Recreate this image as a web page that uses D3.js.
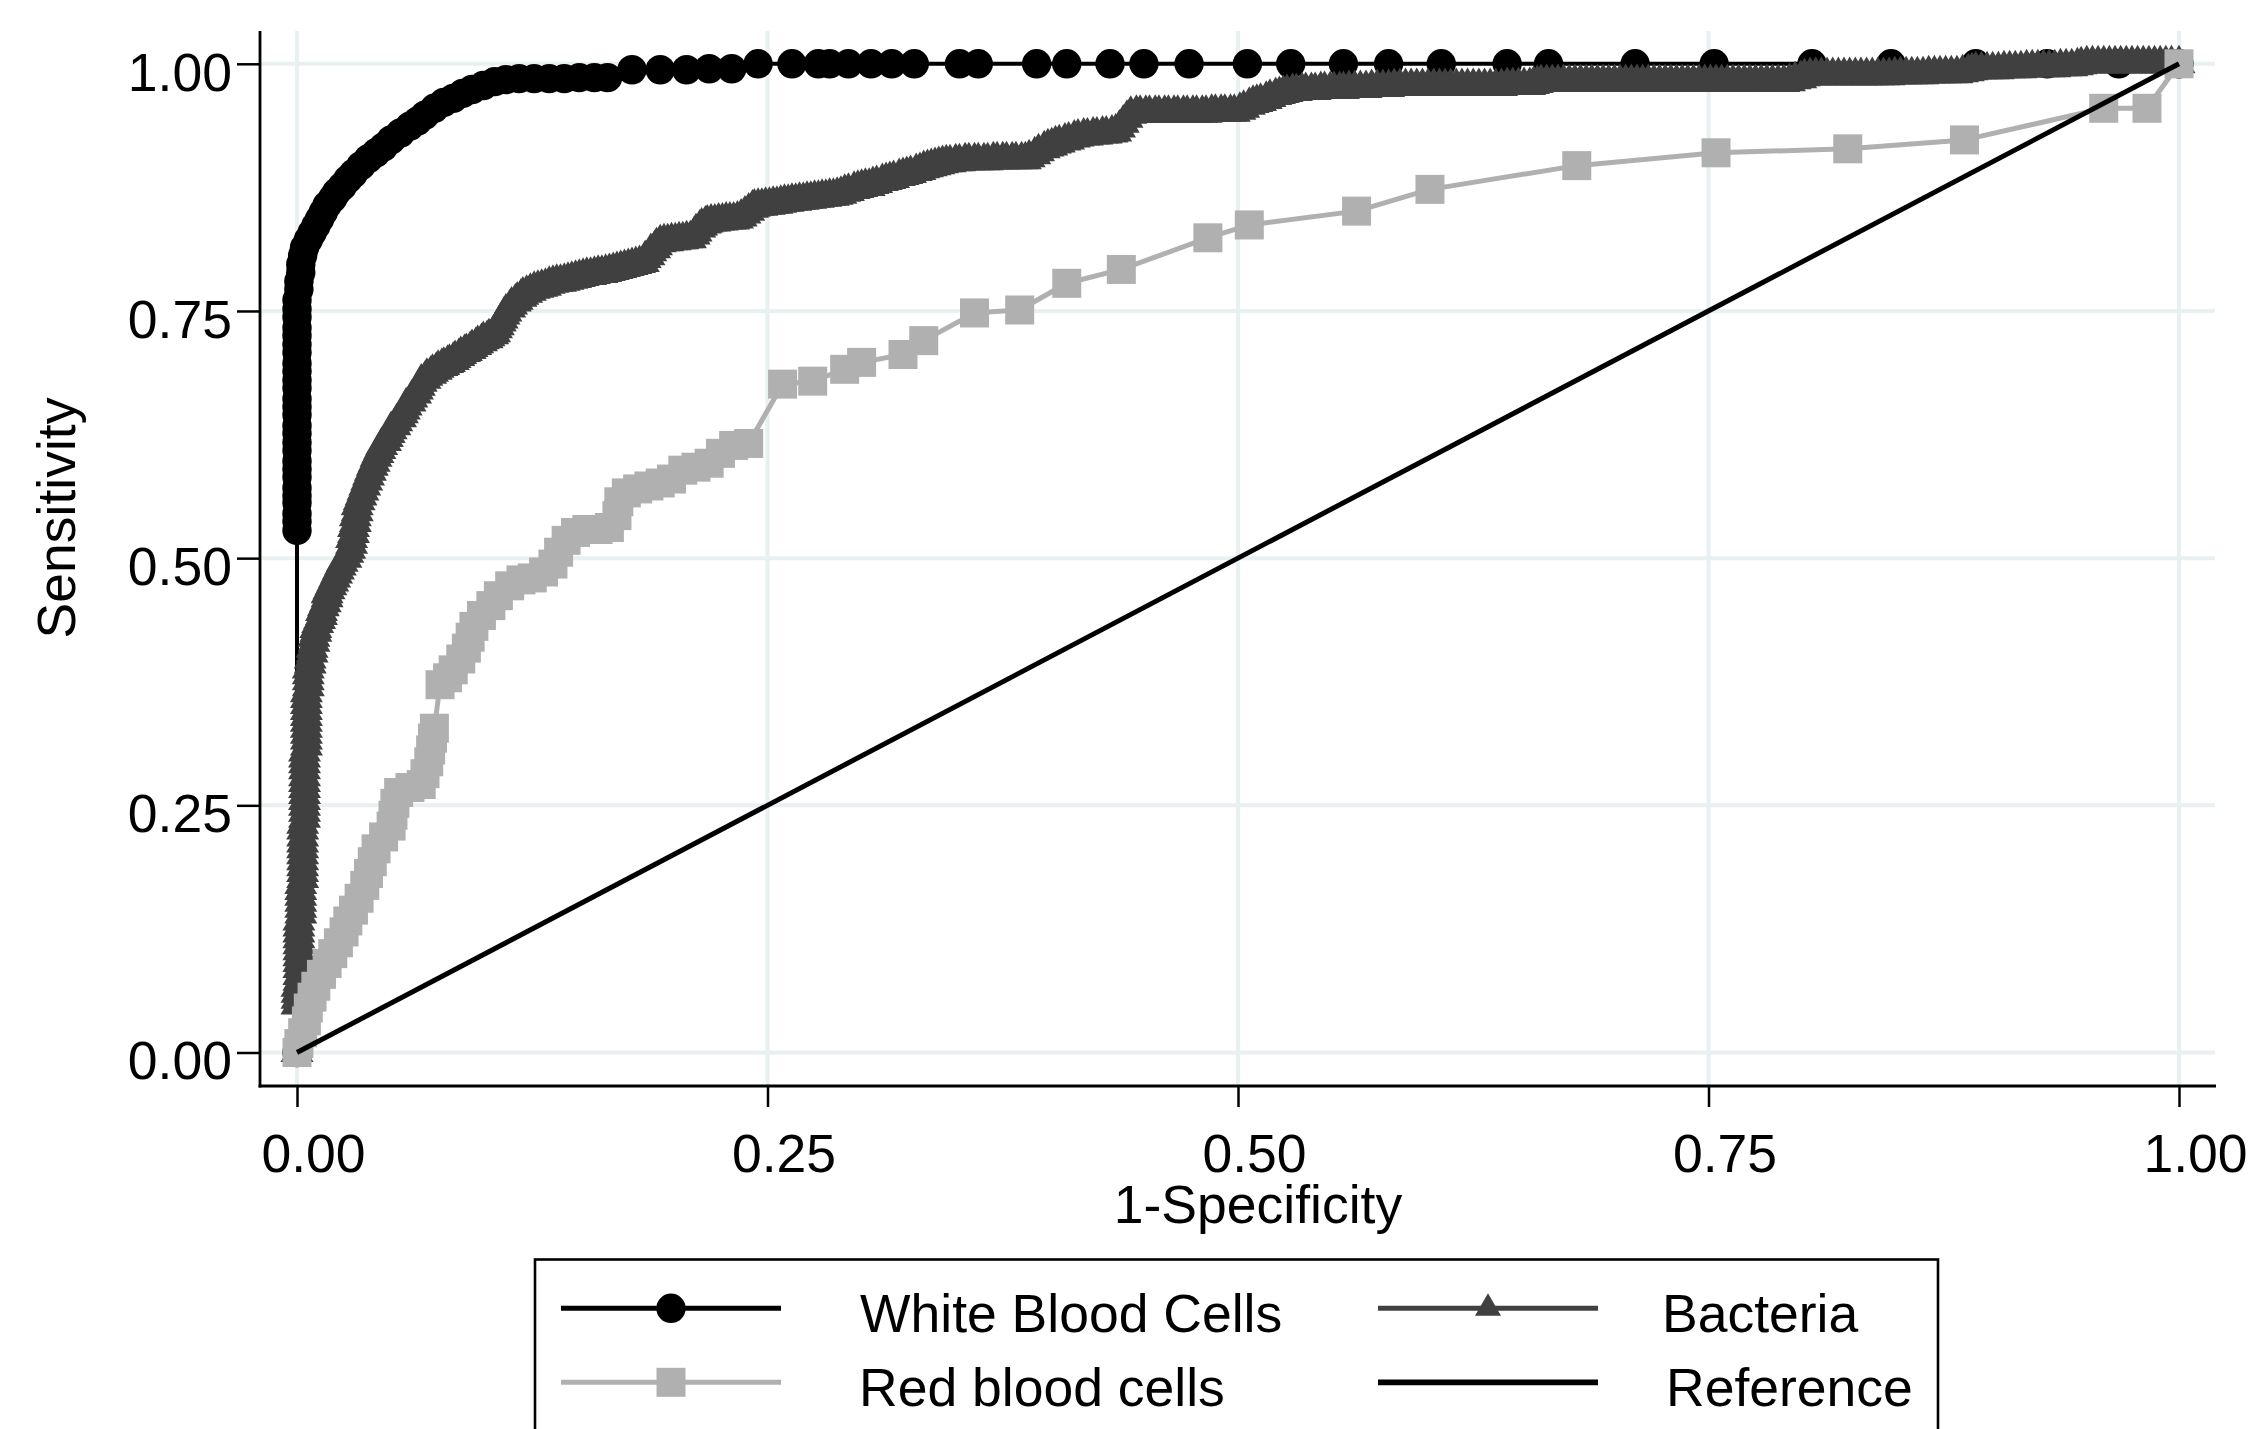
<!DOCTYPE html>
<html>
<head>
<meta charset="utf-8">
<script src="https://cdn.jsdelivr.net/npm/d3@7"></script>
<style>
body{margin:0;background:#fff;}
svg text{font-family:"Liberation Sans", Arial, Helvetica, sans-serif;}
</style>
</head>
<body>
<svg id="roc"></svg>
<script>
// roc curves, urine test markers

const seriesNames = ['White Blood Cells', 'Bacteria', 'Red blood cells', 'Reference'];
const xTicks = [0, 0.25, 0.5, 0.75, 1];
const yTicks = [0, 0.25, 0.5, 0.75, 1];
const xTitle = '1-Specificity';
const yTitle = 'Sensitivity';

// [1-specificity, sensitivity]
const wbcPoints = [
    [0,0],[0,0.528],[0,0.537],[0,0.545],[0,0.556],[0,0.563],[0,0.571],[0,0.582],[0,0.59],[0,0.598],
    [0,0.609],[0,0.617],[0,0.626],[0,0.634],[0,0.645],[0,0.653],[0,0.661],[0,0.672],[0,0.68],[0,0.689],
    [0,0.697],[0,0.708],[0,0.716],[0,0.725],[0,0.733],[0,0.744],[0,0.752],[0,0.761],[0.001,0.772],[0.001,0.78],
    [0.002,0.789],[0.002,0.797],[0.003,0.806],[0.004,0.814],[0.006,0.822],[0.008,0.829],[0.010,0.836],[0.012,0.843],
    [0.014,0.85],[0.016,0.857],[0.019,0.864],[0.021,0.87],[0.024,0.876],[0.027,0.883],[0.030,0.889],[0.034,0.897],
    [0.038,0.904],[0.042,0.91],[0.046,0.916],[0.050,0.923],[0.055,0.93],[0.060,0.937],[0.064,0.942],[0.068,0.948],
    [0.073,0.955],[0.078,0.961],[0.083,0.965],[0.088,0.97],[0.093,0.974],[0.099,0.978],[0.105,0.982],[0.111,0.984],
    [0.118,0.985],[0.126,0.985],[0.134,0.985],[0.142,0.985],[0.150,0.986],[0.158,0.986],[0.165,0.986],[0.178,0.994],
    [0.193,0.994],[0.207,0.994],[0.219,0.995],[0.231,0.995],[0.245,1],[0.263,1],[0.277,1],[0.283,1],[0.293,1],
    [0.305,1],[0.316,1],[0.328,1],[0.352,1],[0.362,1],[0.393,1],[0.409,1],[0.432,1],[0.450,1],[0.474,1],[0.505,1],
    [0.528,1],[0.556,1],[0.580,1],[0.608,1],[0.643,1],[0.665,1],[0.711,1],[0.753,1],[0.805,1],[0.847,1],[0.892,1],
    [0.930,1],[0.968,1],[1,1]
];

const bacteriaPoints = [
    [0,0],[0,0.048],[0,0.054],[0,0.06],[0,0.066],[0.001,0.072],[0.001,0.078],[0.001,0.085],[0.001,0.091],[0.001,0.097],
    [0.001,0.103],[0.001,0.109],[0.001,0.115],[0.001,0.121],[0.001,0.127],[0.001,0.133],[0.002,0.14],[0.002,0.146],
    [0.002,0.152],[0.002,0.158],[0.002,0.164],[0.002,0.17],[0.003,0.176],[0.003,0.182],[0.003,0.188],[0.003,0.194],
    [0.003,0.2],[0.003,0.206],[0.003,0.212],[0.003,0.218],[0.003,0.225],[0.003,0.231],[0.004,0.237],[0.004,0.243],
    [0.004,0.249],[0.004,0.255],[0.004,0.261],[0.004,0.267],[0.004,0.273],[0.004,0.279],[0.004,0.286],[0.004,0.292],
    [0.004,0.298],[0.004,0.304],[0.005,0.31],[0.005,0.316],[0.005,0.322],[0.005,0.328],[0.005,0.334],[0.005,0.34],
    [0.005,0.346],[0.005,0.352],[0.005,0.358],[0.005,0.364],[0.006,0.37],[0.006,0.376],[0.006,0.382],[0.006,0.388],
    [0.007,0.393],[0.007,0.398],[0.008,0.404],[0.008,0.409],[0.009,0.415],[0.009,0.42],[0.010,0.425],[0.010,0.429],
    [0.011,0.434],[0.012,0.438],[0.013,0.442],[0.013,0.446],[0.014,0.451],[0.015,0.455],[0.016,0.46],[0.016,0.464],
    [0.017,0.468],[0.018,0.472],[0.019,0.476],[0.020,0.48],[0.021,0.484],[0.022,0.488],[0.023,0.492],[0.024,0.496],
    [0.026,0.5],[0.027,0.505],[0.028,0.509],[0.029,0.514],[0.029,0.52],[0.030,0.525],[0.030,0.531],[0.031,0.536],
    [0.031,0.542],[0.032,0.547],[0.032,0.553],[0.033,0.558],[0.034,0.563],[0.035,0.568],[0.036,0.573],[0.037,0.578],
    [0.038,0.583],[0.039,0.588],[0.040,0.593],[0.041,0.597],[0.042,0.602],[0.043,0.606],[0.044,0.61],[0.045,0.614],
    [0.047,0.618],[0.048,0.622],[0.049,0.626],[0.050,0.63],[0.052,0.634],[0.053,0.638],[0.055,0.642],[0.056,0.646],
    [0.057,0.65],[0.058,0.654],[0.060,0.658],[0.061,0.662],[0.063,0.666],[0.064,0.67],[0.065,0.674],[0.066,0.678],
    [0.068,0.681],[0.069,0.684],[0.071,0.686],[0.072,0.688],[0.074,0.69],[0.075,0.692],[0.077,0.694],[0.078,0.695],
    [0.080,0.697],[0.081,0.698],[0.083,0.7],[0.084,0.702],[0.086,0.704],[0.087,0.706],[0.089,0.708],[0.090,0.709],
    [0.092,0.711],[0.093,0.713],[0.095,0.715],[0.096,0.717],[0.098,0.719],[0.099,0.721],[0.101,0.722],[0.102,0.724],
    [0.104,0.726],[0.105,0.728],[0.106,0.732],[0.107,0.735],[0.108,0.739],[0.109,0.742],[0.110,0.746],[0.111,0.749],
    [0.113,0.753],[0.114,0.756],[0.116,0.759],[0.117,0.761],[0.119,0.764],[0.120,0.766],[0.122,0.768],[0.124,0.77],
    [0.126,0.772],[0.128,0.773],[0.130,0.774],[0.132,0.775],[0.134,0.777],[0.136,0.778],[0.138,0.779],[0.140,0.779],
    [0.142,0.78],[0.144,0.781],[0.146,0.782],[0.148,0.783],[0.150,0.784],[0.152,0.785],[0.154,0.786],[0.156,0.786],
    [0.158,0.787],[0.160,0.788],[0.162,0.788],[0.164,0.789],[0.166,0.79],[0.168,0.791],[0.170,0.792],[0.172,0.793],
    [0.174,0.794],[0.176,0.795],[0.178,0.796],[0.180,0.797],[0.182,0.798],[0.184,0.799],[0.185,0.803],[0.187,0.806],
    [0.188,0.81],[0.190,0.813],[0.191,0.816],[0.193,0.819],[0.195,0.82],[0.197,0.82],[0.199,0.821],[0.201,0.821],
    [0.203,0.822],[0.205,0.822],[0.207,0.823],[0.209,0.823],[0.211,0.827],[0.212,0.83],[0.214,0.834],[0.215,0.836],
    [0.217,0.838],[0.218,0.839],[0.220,0.84],[0.222,0.84],[0.224,0.841],[0.226,0.841],[0.228,0.842],[0.230,0.842],
    [0.232,0.842],[0.234,0.843],[0.236,0.845],[0.238,0.848],[0.240,0.851],[0.242,0.854],[0.243,0.855],[0.245,0.856],
    [0.247,0.856],[0.249,0.857],[0.251,0.857],[0.253,0.858],[0.255,0.858],[0.257,0.859],[0.259,0.86],[0.261,0.86],
    [0.263,0.861],[0.265,0.861],[0.267,0.862],[0.269,0.862],[0.271,0.863],[0.273,0.863],[0.275,0.864],[0.277,0.864],
    [0.279,0.865],[0.281,0.865],[0.283,0.866],[0.285,0.866],[0.287,0.867],[0.289,0.868],[0.291,0.87],[0.293,0.871],
    [0.296,0.873],[0.298,0.874],[0.300,0.875],[0.302,0.876],[0.304,0.876],[0.306,0.878],[0.308,0.879],[0.311,0.881],
    [0.313,0.882],[0.315,0.883],[0.317,0.884],[0.320,0.886],[0.322,0.887],[0.324,0.888],[0.326,0.889],[0.329,0.891],
    [0.331,0.892],[0.333,0.894],[0.335,0.895],[0.337,0.896],[0.339,0.897],[0.341,0.898],[0.343,0.899],[0.345,0.9],
    [0.347,0.9],[0.350,0.901],[0.352,0.901],[0.355,0.902],[0.357,0.902],[0.360,0.902],[0.362,0.902],[0.365,0.902],
    [0.367,0.902],[0.370,0.903],[0.372,0.903],[0.375,0.903],[0.377,0.903],[0.380,0.903],[0.382,0.903],[0.385,0.903],
    [0.387,0.903],[0.389,0.905],[0.392,0.908],[0.394,0.911],[0.397,0.914],[0.399,0.916],[0.401,0.917],[0.403,0.919],
    [0.405,0.92],[0.408,0.922],[0.410,0.923],[0.413,0.925],[0.415,0.926],[0.418,0.927],[0.420,0.927],[0.423,0.928],
    [0.425,0.928],[0.428,0.929],[0.430,0.929],[0.433,0.93],[0.435,0.931],[0.437,0.935],[0.439,0.94],[0.441,0.945],
    [0.443,0.949],[0.446,0.95],[0.448,0.95],[0.451,0.95],[0.453,0.95],[0.456,0.95],[0.458,0.95],[0.461,0.95],
    [0.463,0.95],[0.466,0.95],[0.468,0.95],[0.471,0.95],[0.473,0.95],[0.476,0.95],[0.478,0.95],[0.481,0.95],
    [0.483,0.95],[0.486,0.951],[0.488,0.951],[0.491,0.951],[0.493,0.951],[0.496,0.951],[0.498,0.951],[0.501,0.953],
    [0.503,0.955],[0.506,0.958],[0.508,0.96],[0.510,0.961],[0.512,0.962],[0.515,0.964],[0.517,0.966],[0.520,0.968],
    [0.522,0.969],[0.524,0.97],[0.526,0.971],[0.529,0.972],[0.531,0.972],[0.534,0.973],[0.536,0.973],[0.539,0.973],
    [0.541,0.973],[0.544,0.974],[0.546,0.974],[0.549,0.974],[0.551,0.974],[0.554,0.974],[0.556,0.974],[0.559,0.975],
    [0.562,0.975],[0.565,0.975],[0.568,0.975],[0.571,0.976],[0.574,0.976],[0.577,0.976],[0.580,0.976],[0.583,0.977],
    [0.586,0.977],[0.589,0.977],[0.592,0.977],[0.595,0.977],[0.598,0.977],[0.601,0.977],[0.604,0.977],[0.607,0.977],
    [0.610,0.977],[0.613,0.977],[0.616,0.977],[0.619,0.977],[0.622,0.977],[0.625,0.977],[0.628,0.977],[0.631,0.977],
    [0.634,0.977],[0.637,0.977],[0.640,0.977],[0.643,0.978],[0.646,0.978],[0.649,0.978],[0.652,0.978],[0.655,0.978],
    [0.657,0.979],[0.659,0.98],[0.661,0.981],[0.664,0.981],[0.667,0.981],[0.670,0.981],[0.673,0.981],[0.676,0.981],
    [0.679,0.981],[0.682,0.981],[0.685,0.981],[0.688,0.981],[0.691,0.981],[0.694,0.981],[0.697,0.981],[0.700,0.981],
    [0.703,0.981],[0.706,0.981],[0.709,0.981],[0.712,0.981],[0.715,0.981],[0.718,0.981],[0.721,0.981],[0.724,0.981],
    [0.727,0.981],[0.730,0.981],[0.733,0.981],[0.736,0.981],[0.739,0.981],[0.742,0.981],[0.745,0.981],[0.748,0.981],
    [0.751,0.981],[0.754,0.981],[0.757,0.981],[0.760,0.981],[0.763,0.981],[0.766,0.981],[0.769,0.981],[0.772,0.981],
    [0.775,0.981],[0.778,0.981],[0.781,0.981],[0.784,0.981],[0.787,0.981],[0.790,0.981],[0.793,0.982],[0.796,0.984],
    [0.799,0.985],[0.801,0.987],[0.804,0.988],[0.807,0.988],[0.810,0.988],[0.813,0.988],[0.816,0.988],[0.819,0.988],
    [0.822,0.988],[0.825,0.988],[0.828,0.988],[0.831,0.988],[0.834,0.988],[0.837,0.988],[0.840,0.988],[0.843,0.988],
    [0.846,0.988],[0.849,0.989],[0.852,0.989],[0.855,0.989],[0.858,0.989],[0.861,0.989],[0.864,0.989],[0.867,0.99],
    [0.870,0.99],[0.873,0.99],[0.876,0.99],[0.879,0.99],[0.882,0.99],[0.885,0.991],[0.888,0.992],[0.890,0.993],
    [0.892,0.994],[0.895,0.994],[0.898,0.994],[0.901,0.994],[0.904,0.994],[0.907,0.995],[0.910,0.995],[0.913,0.995],
    [0.916,0.995],[0.919,0.996],[0.922,0.996],[0.925,0.996],[0.928,0.996],[0.931,0.996],[0.934,0.996],[0.937,0.997],
    [0.940,0.997],[0.943,0.997],[0.946,0.998],[0.948,0.999],[0.951,1],[0.954,1],[0.957,1],[0.960,1],[0.963,1],
    [0.966,1],[0.969,1],[0.972,1],[0.975,1],[0.978,1],[0.981,1],[0.984,1],[0.987,1],[0.990,1],[0.993,1],[0.996,1],[1,1]
];

const rbcPoints = [
    [0,0],[0.001,0.009],[0.003,0.02],[0.005,0.032],[0.006,0.045],[0.008,0.056],[0.010,0.067],[0.013,0.079],
    [0.016,0.09],[0.019,0.1],[0.022,0.111],[0.025,0.122],[0.027,0.133],[0.030,0.144],[0.033,0.156],[0.036,0.169],
    [0.038,0.181],[0.040,0.193],[0.042,0.206],[0.046,0.218],[0.050,0.229],[0.051,0.24],[0.052,0.252],[0.054,0.263],
    [0.060,0.268],[0.066,0.271],[0.068,0.282],[0.070,0.294],[0.071,0.306],[0.072,0.318],[0.073,0.328],[0.076,0.372],
    [0.080,0.379],[0.083,0.387],[0.087,0.398],[0.090,0.409],[0.092,0.42],[0.094,0.431],[0.098,0.442],[0.103,0.452],
    [0.107,0.462],[0.113,0.472],[0.119,0.478],[0.125,0.48],[0.131,0.486],[0.136,0.494],[0.139,0.506],[0.143,0.518],
    [0.148,0.526],[0.154,0.529],[0.160,0.529],[0.166,0.531],[0.170,0.543],[0.171,0.557],[0.175,0.566],[0.181,0.57],
    [0.187,0.573],[0.193,0.576],[0.199,0.58],[0.205,0.589],[0.212,0.592],[0.219,0.596],[0.225,0.606],[0.232,0.614],
    [0.240,0.616],[0.258,0.676],[0.274,0.679],[0.291,0.691],[0.300,0.698],[0.322,0.706],[0.333,0.72],[0.360,0.748],
    [0.384,0.751],[0.409,0.778],[0.438,0.792],[0.484,0.824],[0.506,0.837],[0.563,0.851],[0.602,0.873],[0.680,0.897],
    [0.754,0.91],[0.824,0.914],[0.886,0.923],[0.960,0.955],[0.983,0.955],[1,1]
];

const referencePoints = [[0,0],[1,1]];

var width = 2248, height = 1429;
var fontSize = 53.5;

var svg = d3.select('svg#roc')
.attr('width',width)
.attr('height',height);

svg.append('rect')
.attr('width',width)
.attr('height',height)
.attr('fill','#fff');

var x = d3.scaleLinear().domain([0,1]).range([297,2179]);
var y = d3.scaleLinear().domain([0,1]).range([1052.5,63.8]);

// grid
var grid = svg.append('g')
.attr('stroke','#e8f0f1')
.attr('stroke-width',4);

grid.selectAll('line.h')
.data(yTicks)
.enter().append('line')
.attr('class','h')
.attr('x1',260).attr('x2',2215)
.attr('y1',d=>y(d)).attr('y2',d=>y(d));

grid.selectAll('line.v')
.data(xTicks)
.enter().append('line')
.attr('class','v')
.attr('x1',d=>x(d)).attr('x2',d=>x(d))
.attr('y1',31).attr('y2',1086);

// axes
var yAxis = svg.append('g')
.attr('transform','translate(260,0)')
.call(d3.axisLeft(y).tickValues(yTicks).tickSize(23).tickPadding(5).tickFormat(d3.format('.2f')))
.attr('font-size',fontSize)
.attr('font-family','"Liberation Sans", Arial, sans-serif');
yAxis.select('.domain').remove();
yAxis.selectAll('.tick line').attr('stroke','#000').attr('stroke-width',2.5);
yAxis.selectAll('.tick text').attr('dy','0.49em').attr('fill','#000');

var xAxis = svg.append('g')
.attr('transform','translate(0,1086)')
.call(d3.axisBottom(x).tickValues(xTicks).tickSize(21).tickPadding(26.7).tickFormat(d3.format('.2f')))
.attr('font-size',fontSize)
.attr('font-family','"Liberation Sans", Arial, sans-serif');
xAxis.select('.domain').remove();
xAxis.selectAll('.tick line').attr('stroke','#000').attr('stroke-width',2.5);
xAxis.selectAll('.tick text').attr('x',16).attr('fill','#000');

svg.append('line')
.attr('x1',260).attr('x2',260)
.attr('y1',31).attr('y2',1087.5)
.attr('stroke','#000').attr('stroke-width',2.8);

svg.append('line')
.attr('x1',258.6).attr('x2',2216)
.attr('y1',1086).attr('y2',1086)
.attr('stroke','#000').attr('stroke-width',3);

svg.append('text')
.text(yTitle)
.attr('transform','translate(75,518) rotate(-90)')
.attr('text-anchor','middle')
.attr('font-size',fontSize);

svg.append('text')
.text(xTitle)
.attr('x',1258).attr('y',1223)
.attr('text-anchor','middle')
.attr('font-size',fontSize);

// triangle with its centroid on the point
var triangle = {
    draw: function(context, size){
        let s = Math.sqrt(size);
        context.moveTo(0,-0.577*s);
        context.lineTo(s/2,0.289*s);
        context.lineTo(-s/2,0.289*s);
        context.closePath();
    }
}

var series = [
    {name: seriesNames[0], points: wbcPoints, color: '#000', width: 4,
        symbol: d3.symbol().type(d3.symbolCircle).size(Math.PI*14.7*14.7),
        key: d3.symbol().type(d3.symbolCircle).size(Math.PI*14.7*14.7)},
    {name: seriesNames[1], points: bacteriaPoints, color: '#404040', width: 4,
        symbol: d3.symbol().type(triangle).size(33*33),
        key: d3.symbol().type(triangle).size(26*26)},
    {name: seriesNames[2], points: rbcPoints, color: '#b0b0b0', width: 5,
        symbol: d3.symbol().type(d3.symbolSquare).size(29*29),
        key: d3.symbol().type(d3.symbolSquare).size(29*29)},
    {name: seriesNames[3], points: referencePoints, color: '#000', width: 5, symbol: null, key: null}
];

var line = d3.line().x(d=>x(d[0])).y(d=>y(d[1]));

series.forEach(s=>{
    let g = svg.append('g');
    g.append('path')
    .attr('d',line(s.points))
    .attr('fill','none')
    .attr('stroke',s.color)
    .attr('stroke-width',s.width)
    .attr('stroke-linejoin','round');
    if(!s.symbol) return;
    g.selectAll('path.marker')
    .data(s.points)
    .enter().append('path')
    .attr('class','marker')
    .attr('d',s.symbol)
    .attr('transform',d=>'translate('+x(d[0])+','+y(d[1])+')')
    .attr('fill',s.color);
});

// legend
var legend = svg.append('g');
legend.append('rect')
.attr('x',535).attr('y',1259.5)
.attr('width',1403).attr('height',190)
.attr('fill','#fff')
.attr('stroke','#000')
.attr('stroke-width',2.6);

var legendPos = [
    {lx: 561, ly: 1308.3, tx: 860, ty: 1331.7},
    {lx: 1378, ly: 1308.3, tx: 1662, ty: 1331.7},
    {lx: 561, ly: 1382.3, tx: 859, ty: 1406},
    {lx: 1378, ly: 1382.3, tx: 1666, ty: 1406}
];

series.forEach((s,i)=>{
    let p = legendPos[i];
    legend.append('line')
    .attr('x1',p.lx).attr('x2',p.lx+220)
    .attr('y1',p.ly).attr('y2',p.ly)
    .attr('stroke',s.color)
    .attr('stroke-width',i==3?5.7:5);
    if(s.key){
        legend.append('path')
        .attr('d',s.key)
        .attr('transform','translate('+(p.lx+110)+','+p.ly+')')
        .attr('fill',s.color);
    }
    legend.append('text')
    .text(s.name)
    .attr('x',p.tx).attr('y',p.ty)
    .attr('font-size',fontSize);
});
</script>
</body>
</html>
